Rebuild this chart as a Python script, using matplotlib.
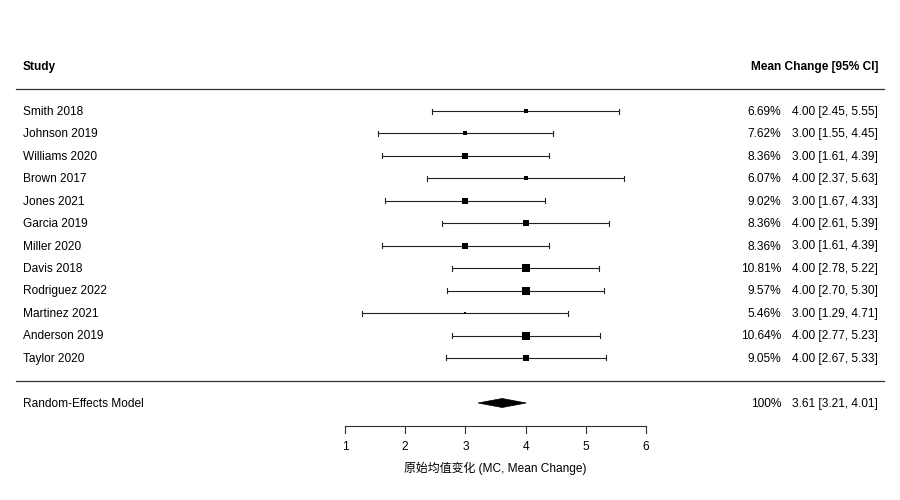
import matplotlib
matplotlib.use("Agg")
import matplotlib.pyplot as plt
from matplotlib.patches import Polygon

plt.rcParams['font.family'] = ['Liberation Sans', 'Noto Sans CJK SC', 'DejaVu Sans']

studies = ["Smith 2018", "Johnson 2019", "Williams 2020", "Brown 2017", "Jones 2021",
           "Garcia 2019", "Miller 2020", "Davis 2018", "Rodriguez 2022", "Martinez 2021",
           "Anderson 2019", "Taylor 2020"]
estimates = [4.00, 3.00, 3.00, 4.00, 3.00, 4.00, 3.00, 4.00, 4.00, 3.00, 4.00, 4.00]
ci_lower = [2.45, 1.55, 1.61, 2.37, 1.67, 2.61, 1.61, 2.78, 2.70, 1.29, 2.77, 2.67]
ci_upper = [5.55, 4.45, 4.39, 5.63, 4.33, 5.39, 4.39, 5.22, 5.30, 4.71, 5.23, 5.33]
weights = [6.69, 7.62, 8.36, 6.07, 9.02, 8.36, 8.36, 10.81, 9.57, 5.46, 10.64, 9.05]

re_label = "Random-Effects Model"
re_est, re_lo, re_hi = 3.61, 3.21, 4.01
re_weight = "100%"

xticks = [1, 2, 3, 4, 5, 6]
xlabel = "原始均值变化 (MC, Mean Change)"
header_left = "Study"
header_right = "Mean Change [95% CI]"

# ---- layout (pixel mapping) ----
W, H = 900, 500
PX_PER_UNIT = 60.2
X_AT_PX0 = 1 - 345 / PX_PER_UNIT
ROW_PX = 22.45
ROW0_PX = 111

def px_x(p):
    return X_AT_PX0 + p / PX_PER_UNIT

def px_y(p):
    return (p - ROW0_PX) / ROW_PX

fig = plt.figure(figsize=(9, 5), dpi=100)
ax = fig.add_axes([0, 0, 1, 1])
ax.set_xlim(px_x(0), px_x(W))
ax.set_ylim(px_y(H), px_y(0))
ax.axis('off')

fs = 8.6
left_x = px_x(23)
w_right = px_x(781)
ci_right = px_x(878)
tdy = 0.8 / ROW_PX  # small downward text nudge

# header
ax.text(left_x, px_y(66) + tdy, header_left, fontsize=fs, fontweight='bold', va='center', ha='left')
ax.text(ci_right, px_y(66) + tdy, header_right, fontsize=fs, fontweight='bold', va='center', ha='right')
ax.plot([px_x(16), px_x(884)], [px_y(89)] * 2, color='#333333', lw=0.9)
ax.plot([px_x(16), px_x(884)], [px_y(381)] * 2, color='#333333', lw=0.9)

cap = 2.5 / ROW_PX
wmin, wmax = min(weights), max(weights)
for i, (s, e, lo, hi, w) in enumerate(zip(studies, estimates, ci_lower, ci_upper, weights)):
    y = i
    ax.text(left_x, y + tdy, s, fontsize=fs, va='center', ha='left')
    ax.plot([lo, hi], [y, y], color='#222222', lw=0.8)
    ax.plot([lo, lo], [y - cap, y + cap], color='#222222', lw=0.8)
    ax.plot([hi, hi], [y - cap, y + cap], color='#222222', lw=0.8)
    size_px = 2.5 + (w - wmin) / (wmax - wmin) * 6
    ax.plot([e], [y], marker='s', color='black', markersize=size_px * 0.72, markeredgewidth=0)
    ax.text(w_right, y + tdy, f"{w:.2f}%", fontsize=fs, va='center', ha='right')
    ax.text(ci_right, y + tdy, f"{e:.2f} [{lo:.2f}, {hi:.2f}]", fontsize=fs, va='center', ha='right')

# random effects
y_re = px_y(403)
ax.text(left_x, y_re + tdy, re_label, fontsize=fs, va='center', ha='left')
dh = 4.5 / ROW_PX
ax.add_patch(Polygon([[re_lo, y_re], [re_est, y_re - dh], [re_hi, y_re], [re_est, y_re + dh]],
                     closed=True, facecolor='black', edgecolor='black', lw=0.5))
ax.text(w_right, y_re + tdy, re_weight, fontsize=fs, va='center', ha='right')
ax.text(ci_right, y_re + tdy, f"{re_est:.2f} [{re_lo:.2f}, {re_hi:.2f}]", fontsize=fs, va='center', ha='right')

# axis
y_ax = px_y(426)
ax.plot([xticks[0], xticks[-1]], [y_ax, y_ax], color='#333333', lw=0.8)
tick_len = 7 / ROW_PX
for t in xticks:
    ax.plot([t, t], [y_ax, y_ax + tick_len], color='#333333', lw=0.8)
    ax.text(t, px_y(446) + tdy, str(t), fontsize=fs, va='center', ha='center')
ax.text((xticks[0] + xticks[-1]) / 2, px_y(468) + tdy, xlabel, fontsize=fs, va='center', ha='center')

fig.savefig("out.png", dpi=100)
